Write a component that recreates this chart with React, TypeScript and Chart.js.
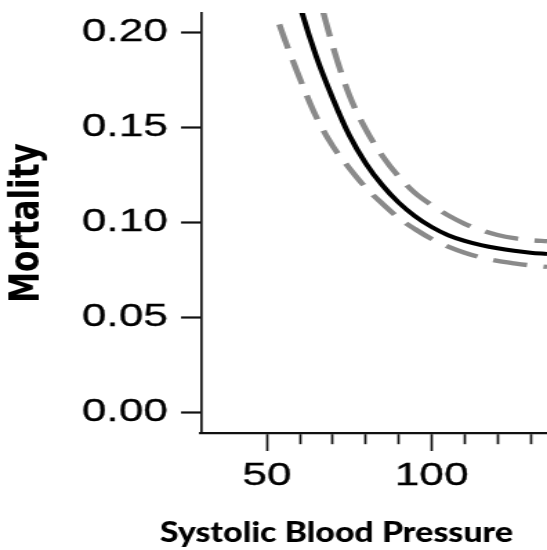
import React, { useEffect, useRef } from "react";
import { Chart, registerables } from "chart.js";

Chart.register(...registerables);

// ---- data ----
const sbp = [50, 55, 60, 65, 70, 75, 80, 85, 90, 95, 100, 105, 110, 115, 120, 125, 130, 135];
const mortality = [0.285, 0.247, 0.214, 0.187, 0.165, 0.1457, 0.131, 0.1195, 0.1103, 0.1031, 0.0975, 0.0932, 0.0902, 0.088, 0.0863, 0.085, 0.084, 0.0833];
const upperCI = [0.345, 0.298, 0.258, 0.224, 0.1925, 0.1668, 0.1488, 0.135, 0.124, 0.1153, 0.109, 0.1036, 0.0992, 0.0958, 0.0933, 0.0916, 0.0906, 0.09];
const lowerCI = [0.223, 0.198, 0.1755, 0.1553, 0.14, 0.1285, 0.1182, 0.1098, 0.1022, 0.0963, 0.0912, 0.0872, 0.084, 0.0815, 0.0797, 0.0784, 0.0773, 0.0765];

const yTickValues = [0, 0.05, 0.1, 0.15, 0.2];
const xTickValues = [50, 60, 70, 80, 90, 100, 110, 120, 130];
const xLabelledTicks = [50, 100];

const yTitle = "Mortality";
const xTitle = "Systolic Blood Pressure";

// ---- geometry: canvas drawn narrower, then stretched horizontally ----
const DISPLAY_W = 547;
const DISPLAY_H = 550;
const INNER_W = Math.round(DISPLAY_W / 1.38);
const S = DISPLAY_W / INNER_W;

const tickFont = { family: '"Liberation Sans", Arial, sans-serif', size: 32 };

const xTitlePlugin = {
  id: "xTitleStretched",
  afterDraw(chart: any) {
    const ctx = chart.ctx as CanvasRenderingContext2D;
    ctx.save();
    ctx.font = '900 28.5px Lato, "Open Sans", sans-serif';
    const w = ctx.measureText(xTitle).width;
    const k = 353 / w;
    ctx.translate(160 / S, 542);
    ctx.scale(k / S, 1);
    ctx.fillStyle = "#000";
    ctx.textAlign = "left";
    ctx.textBaseline = "alphabetic";
    ctx.fillText(xTitle, 0, 0);
    ctx.restore();
  },
};

export default function App() {
  const ref = useRef<HTMLCanvasElement | null>(null);

  useEffect(() => {
    if (!ref.current) return;
    const mk = (ys: number[]) => sbp.map((x, i) => ({ x, y: ys[i] }));
    const chart = new Chart(ref.current, {
      type: "line",
      data: {
        datasets: [
          {
            label: "upper",
            data: mk(upperCI),
            borderColor: "#8a8a8a",
            borderWidth: 4.4,
            borderDash: [25, 12],
            pointRadius: 0,
            fill: false,
            cubicInterpolationMode: "monotone",
          },
          {
            label: "lower",
            data: mk(lowerCI),
            borderColor: "#8a8a8a",
            borderWidth: 4.4,
            borderDash: [25, 12],
            pointRadius: 0,
            fill: false,
            cubicInterpolationMode: "monotone",
          },
          {
            label: "mortality",
            data: mk(mortality),
            borderColor: "#000",
            borderWidth: 4,
            pointRadius: 0,
            fill: false,
            cubicInterpolationMode: "monotone",
          },
        ],
      },
      options: {
        responsive: false,
        animation: false,
        devicePixelRatio: 1,
        events: [],
        layout: { padding: { top: 13, left: 0, right: 0, bottom: 0 } },
        plugins: {
          legend: { display: false },
          tooltip: { enabled: false },
          title: { display: false },
        },
        scales: {
          x: {
            type: "linear",
            position: "bottom",
            min: 30,
            max: 135,
            afterBuildTicks: (s: any) => {
              s.ticks = xTickValues.map((v) => ({ value: v }));
            },
            afterFit: (s: any) => {
              s.height = 117;
              s.paddingLeft = 0;
              s.paddingRight = 0;
            },
            grid: {
              display: true,
              drawOnChartArea: false,
              drawTicks: true,
              tickLength: 18,
              tickWidth: 1.7,
              tickColor: "#111",
              tickBorderDash: (c: any) =>
                c.tick && xLabelledTicks.includes(c.tick.value) ? [] : [10, 40],
            },
            border: { display: true, color: "#111", width: 2.2 },
            ticks: {
              autoSkip: false,
              maxRotation: 0,
              padding: 6,
              color: "#000",
              textStrokeColor: "#000",
              textStrokeWidth: 0.35,
              font: tickFont,
              callback: (v: any) => (xLabelledTicks.includes(Number(v)) ? String(v) : ""),
            },
            title: { display: false },
          },
          y: {
            type: "linear",
            min: -0.0108,
            max: 0.21,
            afterBuildTicks: (s: any) => {
              s.ticks = yTickValues.map((v) => ({ value: v }));
            },
            afterFit: (s: any) => {
              s.width = 201 / S;
              s.paddingTop = 0;
              s.paddingBottom = 0;
            },
            grid: {
              display: true,
              drawOnChartArea: false,
              drawTicks: true,
              tickLength: 20 / S,
              tickWidth: 2.2,
              tickColor: "#111",
            },
            border: { display: true, color: "#111", width: 1.7 },
            ticks: {
              padding: 9.5,
              color: "#000",
              textStrokeColor: "#000",
              textStrokeWidth: 0.35,
              font: tickFont,
              callback: (v: any) => Number(v).toFixed(2),
            },
            title: {
              display: true,
              text: yTitle,
              color: "#000",
              font: { family: '"DejaVu Sans", sans-serif', size: 31, weight: "bold" },
              padding: { top: 1.3, bottom: 0 },
            },
          },
        },
      } as any,
      plugins: [xTitlePlugin],
    });
    return () => chart.destroy();
  }, []);

  return (
    <div style={{ position: "absolute", left: 0, top: 0, width: DISPLAY_W, height: DISPLAY_H, background: "#fff" }}>
      <canvas
        ref={ref}
        width={INNER_W}
        height={DISPLAY_H}
        style={{ display: "block", width: DISPLAY_W + "px", height: DISPLAY_H + "px" }}
      />
    </div>
  );
}
